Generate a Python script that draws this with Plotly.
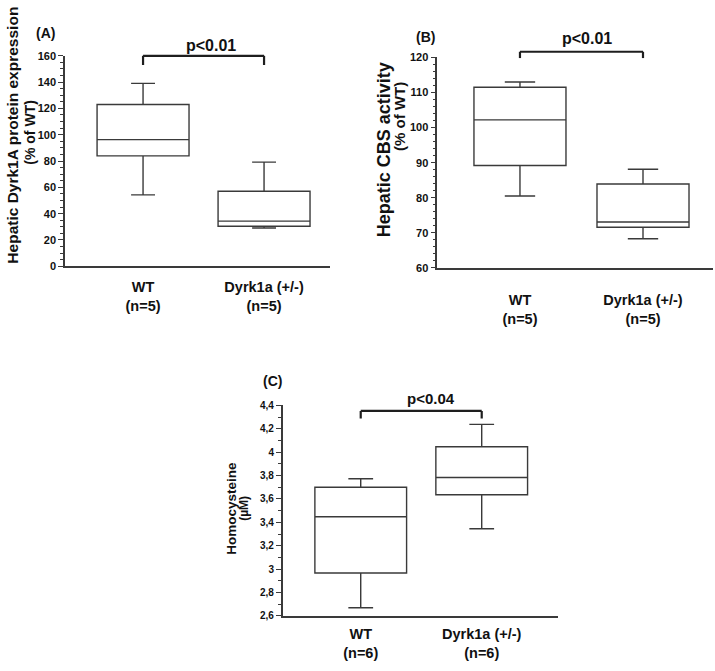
import plotly.graph_objects as go

# ---------------- data ----------------
categories = ["WT", "Dyrk1a (+/-)"]

# Panel A: Hepatic Dyrk1A protein expression (% of WT)
a_n = [5, 5]
a_low = [54.3, 29.1]
a_q1 = [83.9, 30.4]
a_median = [96.3, 34.3]
a_q3 = [123.0, 57.0]
a_high = [139.0, 79.2]

# Panel B: Hepatic CBS activity (% of WT)
b_n = [5, 5]
b_low = [80.5, 68.3]
b_q1 = [89.2, 71.6]
b_median = [102.2, 73.1]
b_q3 = [111.5, 83.9]
b_high = [113.0, 88.1]

# Panel C: Homocysteine (µM)
c_n = [6, 6]
c_low = [2.67, 3.345]
c_q1 = [2.967, 3.636]
c_median = [3.448, 3.784]
c_q3 = [3.70, 4.047]
c_high = [3.773, 4.238]

p_texts = ["p<0.01", "p<0.01", "p<0.04"]

# ---------------- layout helpers ----------------
W, H = 715, 671
FONT = "Liberation Sans, Arial, sans-serif"
LINE = "#3a3a3a"
TXT = "#111111"


def px(x):
    return x / W


def py(y):
    return 1 - y / H


fig = go.Figure()

panels = [
    dict(key="", low=a_low, q1=a_q1, med=a_median, q3=a_q3, high=a_high, n=a_n,
         xdom=[px(65), px(330)], ydom=[py(265), py(50.7)], xr=[-0.645, 1.545],
         yr=[0, 160], dtick=20, minor=5, tick0=0, bw=0.76, ww=0.26, tfs=11,
         standoff=7, br=(153, 160)),
    dict(key="2", low=b_low, q1=b_q1, med=b_median, q3=b_q3, high=b_high, n=b_n,
         xdom=[px(437.3), px(713)], ydom=[py(266.7), py(52.3)], xr=[-0.672, 1.569],
         yr=[60, 120], dtick=10, minor=2, tick0=60, bw=0.748, ww=0.33, tfs=11,
         standoff=18, br=(119.8, 121.6)),
    dict(key="3", low=c_low, q1=c_q1, med=c_median, q3=c_q3, high=c_high, n=c_n,
         xdom=[px(282.7), px(558.3)], ydom=[py(621), py(406.7)], xr=[-0.645, 1.633],
         yr=[2.6, 4.4], dtick=0.2, minor=0.1, tick0=2.6, bw=0.758, ww=0.27, tfs=10,
         standoff=4, br=(4.288, 4.353)),
]

layout_axes = {}
shapes = []
for p in panels:
    k = p["key"]
    fig.add_trace(go.Box(
        x=[0, 1], q1=p["q1"], median=p["med"], q3=p["q3"],
        lowerfence=p["low"], upperfence=p["high"],
        xaxis="x" + k, yaxis="y" + k,
        width=p["bw"], whiskerwidth=p["ww"],
        fillcolor="white", line=dict(color=LINE, width=1.4),
        boxpoints=False, hoverinfo="skip", showlegend=False,
    ))
    ticktext = [f"{c}<br>(n={n})" for c, n in zip(categories, p["n"])]
    layout_axes["xaxis" + k] = dict(
        domain=p["xdom"], range=p["xr"], type="linear", anchor="y" + k,
        showline=True, linecolor=LINE, linewidth=1.5, ticks="",
        tickvals=[0, 1], ticktext=ticktext, ticklabelstandoff=p["standoff"],
        tickfont=dict(family=FONT, size=14.5, color=TXT, weight="bold"),
        showgrid=False, zeroline=False, fixedrange=True,
    )
    layout_axes["yaxis" + k] = dict(
        domain=p["ydom"], range=p["yr"], anchor="x" + k,
        showline=True, linecolor=LINE, linewidth=1.5,
        ticks="outside", ticklen=5, tickwidth=1, tickcolor=LINE,
        tick0=p["tick0"], dtick=p["dtick"],
        minor=dict(dtick=p["minor"], tick0=p["tick0"], ticks="outside",
                   ticklen=3, tickwidth=1, tickcolor=LINE),
        tickfont=dict(family=FONT, size=p["tfs"], color=TXT, weight="bold"),
        showgrid=False, zeroline=False, fixedrange=True,
    )
    # significance bracket between the two boxes
    y0, y1 = p["yr"]
    fb = (p["br"][0] - y0) / (y1 - y0)
    ft = (p["br"][1] - y0) / (y1 - y0)
    for (xa, ya, xb, yb) in [(0, fb, 0, ft), (0, ft, 1, ft), (1, ft, 1, fb)]:
        shapes.append(dict(type="line", xref="x" + k, yref=f"y{k} domain",
                           x0=xa, y0=ya, x1=xb, y1=yb,
                           line=dict(color="#1e1e1e", width=2.2)))

annotations = []


def ann(text, x, y, size, angle=0):
    annotations.append(dict(text=text, x=px(x), y=py(y), xref="paper", yref="paper",
                            showarrow=False, textangle=angle,
                            xanchor="center", yanchor="middle",
                            font=dict(family=FONT, size=size, color=TXT, weight="bold")))


# panel letters
ann("(A)", 46, 27, 14)
ann("(B)", 425, 32, 14)
ann("(C)", 272, 382, 14)
# p-values
ann(p_texts[0], 211, 40, 16)
ann(p_texts[1], 587, 33, 16)
ann(p_texts[2], 431, 400, 15)
# y-axis titles
ann("Hepatic Dyrk1A protein expression", 13, 132, 15.5, -90)
ann("(% of WT)", 30, 129, 14, -90)
ann("Hepatic CBS activity", 384, 147, 18, -90)
ann("(% of WT)", 400, 113, 15, -90)
ann("Homocysteine", 232, 512, 13.5, -90)
ann("(µM)", 244, 512, 12, -90)

fig.update_layout(
    width=W, height=H, margin=dict(l=0, r=0, t=0, b=0),
    paper_bgcolor="white", plot_bgcolor="white",
    separators=", ", showlegend=False,
    shapes=shapes, annotations=annotations, **layout_axes,
)

fig.write_html(
    "out.html",
    config={"displayModeBar": False},
    post_script="document.body.style.margin='0';document.body.style.overflow='hidden';",
)
